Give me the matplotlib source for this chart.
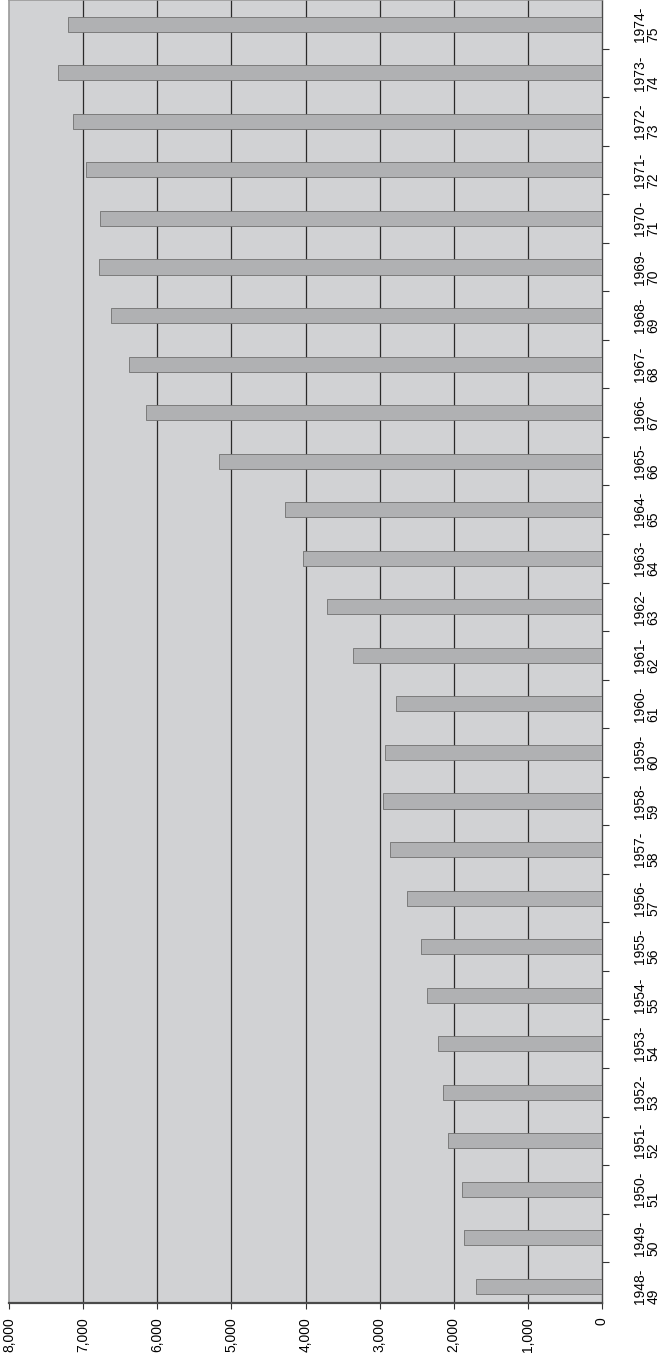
import matplotlib.pyplot as plt
import numpy as np

plt.rcParams['font.family'] = ['Liberation Sans', 'DejaVu Sans']

# school years, first to last
years = ["1948-\n49", "1949-\n50", "1950-\n51", "1951-\n52", "1952-\n53", "1953-\n54",
         "1954-\n55", "1955-\n56", "1956-\n57", "1957-\n58", "1958-\n59", "1959-\n60",
         "1960-\n61", "1961-\n62", "1962-\n63", "1963-\n64", "1964-\n65", "1965-\n66",
         "1966-\n67", "1967-\n68", "1968-\n69", "1969-\n70", "1970-\n71", "1971-\n72",
         "1972-\n73", "1973-\n74", "1974-\n75"]
values = [1706, 1855, 1895, 2081, 2140, 2216, 2356, 2446, 2626, 2858, 2955, 2928,
          2779, 3360, 3710, 4040, 4276, 5167, 6149, 6379, 6626, 6782, 6776, 6964,
          7140, 7342, 7207]
value_ticks = [0, 1000, 2000, 3000, 4000, 5000, 6000, 7000, 8000]
value_labels = ["0", "1,000", "2,000", "3,000", "4,000", "5,000", "6,000", "7,000", "8,000"]

fig = plt.figure(figsize=(6.67, 13.6), dpi=100)
ax = fig.add_axes([9 / 667, 1 - 1303 / 1360, (602 - 9) / 667, 1303 / 1360])
ax.set_facecolor("#d1d2d4")

pos = np.arange(len(years))
ax.barh(pos, values, height=0.31, color="#b0b1b3", edgecolor="#707070", linewidth=0.6, zorder=3)

# grid lines for every thousand (8000 is the border)
for v in value_ticks[1:-1]:
    ax.axvline(v, color="#2a2a2a", linewidth=0.9, zorder=1)

ax.set_xlim(8000, 0)
ax.set_ylim(-0.34, 26.5)

ax.set_xticks(value_ticks)
ax.set_xticklabels(value_labels, rotation=90, fontsize=10, va="top")
ax.tick_params(axis="x", direction="out", length=4, width=0.8, color="#333333", pad=6)

ax.yaxis.tick_right()
ax.set_yticks(pos)
ax.set_yticklabels(years, rotation=90, fontsize=10, va="center", ha="left",
                   multialignment="left", linespacing=1.0)
ax.set_yticks(pos[:-1] + 0.5, minor=True)
ax.tick_params(axis="y", which="major", length=0, pad=22)
ax.tick_params(axis="y", which="minor", direction="out", length=5, width=0.8, color="#333333")

ax.spines["bottom"].set_color("#4a4a4a")
ax.spines["bottom"].set_linewidth(1.6)
ax.spines["right"].set_color("#4a4a4a")
ax.spines["right"].set_linewidth(1.0)
ax.spines["left"].set_color("#9a9a9a")
ax.spines["left"].set_linewidth(1.2)
ax.spines["top"].set_color("#9a9a9a")
ax.spines["top"].set_linewidth(1.2)

plt.savefig("out.png", dpi=100)
